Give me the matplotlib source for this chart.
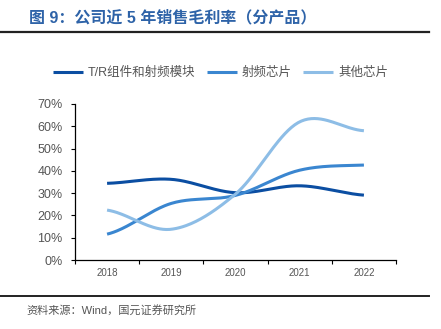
import numpy as np
import matplotlib.pyplot as plt
from matplotlib.ticker import FuncFormatter

plt.rcParams['font.family'] = ['Liberation Sans', 'Noto Sans CJK SC', 'DejaVu Sans']

years = ['2018', '2019', '2020', '2021', '2022']
tr_module = [0.344, 0.362, 0.302, 0.333, 0.291]
rf_chip = [0.116, 0.254, 0.290, 0.403, 0.426]
other_chip = [0.224, 0.138, 0.296, 0.620, 0.580]
names = ['T/R组件和射频模块', '射频芯片', '其他芯片']
colors = ['#0b4ea2', '#3a86d0', '#8dbde6']


def smooth(xs, ys, n=40, t=0.5):
    # cardinal spline through the points (like Excel smoothed lines)
    xs = np.asarray(xs, float)
    ys = np.asarray(ys, float)
    px = np.concatenate([[2 * xs[0] - xs[1]], xs, [2 * xs[-1] - xs[-2]]])
    py = np.concatenate([[ys[0]], ys, [ys[-1]]])
    ox, oy = [], []
    for i in range(1, len(px) - 2):
        m0x = t * (px[i + 1] - px[i - 1]); m0y = t * (py[i + 1] - py[i - 1])
        m1x = t * (px[i + 2] - px[i]); m1y = t * (py[i + 2] - py[i])
        s = np.linspace(0, 1, n)
        h00 = 2 * s**3 - 3 * s**2 + 1
        h10 = s**3 - 2 * s**2 + s
        h01 = -2 * s**3 + 3 * s**2
        h11 = s**3 - s**2
        ox.extend(h00 * px[i] + h10 * m0x + h01 * px[i + 1] + h11 * m1x)
        oy.extend(h00 * py[i] + h10 * m0y + h01 * py[i + 1] + h11 * m1y)
    return np.array(ox), np.array(oy)


fig = plt.figure(figsize=(4.41, 3.29), dpi=100)
ax = fig.add_axes([0.170, 0.2097, 0.728, 0.4742])

x = np.arange(len(years))
for vals, name, c in zip([tr_module, rf_chip, other_chip], names, colors):
    sx, sy = smooth(x, vals)
    ax.plot(sx, sy, color=c, lw=2.2, label=name, solid_capstyle='butt')

ax.set_xlim(-0.5, len(years) - 0.5)
ax.set_ylim(0, 0.7)
ax.set_yticks(np.arange(0, 0.71, 0.1))
ax.yaxis.set_major_formatter(FuncFormatter(lambda v, p: f'{v*100:.0f}%'))
ax.set_xticks(x)
ax.set_xticklabels(years)
ax.set_xticks(np.arange(-0.5, len(years), 1), minor=True)
ax.tick_params(axis='x', which='major', length=0, pad=6, labelsize=7, colors='#555555')
ax.tick_params(axis='x', which='minor', length=3, width=0.8, color='black')
ax.tick_params(axis='y', length=3, width=0.8, labelsize=9, colors='#555555', pad=6)
ax.tick_params(axis='y', color='black')
for s in ['top', 'right']:
    ax.spines[s].set_visible(False)
for s in ['left', 'bottom']:
    ax.spines[s].set_linewidth(0.9)

fig.legend(loc='center', bbox_to_anchor=(0.5, 0.778), ncol=3, frameon=False,
           fontsize=9, handlelength=2.4, columnspacing=0.9, handletextpad=0.4,
           labelcolor='#555555')

fig.text(0.065, 0.945, '图 9：公司近 5 年销售毛利率（分产品）', fontsize=11.5,
         fontweight='bold', color='#2e63a8', va='center')
fig.add_artist(plt.Line2D([0, 0.972], [0.903, 0.903], color='#222222', lw=1.6))
fig.add_artist(plt.Line2D([0, 0.972], [0.101, 0.101], color='#222222', lw=1.4))
fig.text(0.06, 0.058, '资料来源：Wind，国元证券研究所', fontsize=8, color='#555555', va='center')

fig.savefig('out.png', dpi=100)
